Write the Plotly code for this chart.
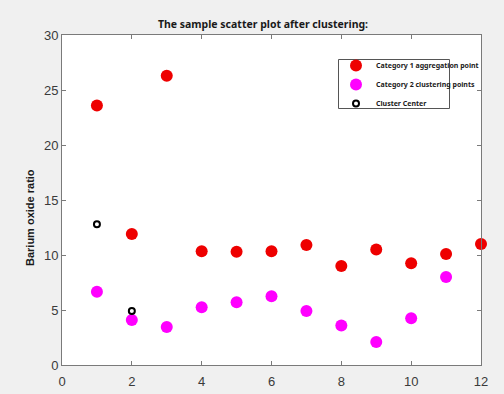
import plotly.graph_objects as go

cat1_x = [1, 2, 3, 4, 5, 6, 7, 8, 9, 10, 11, 12]
cat1_y = [23.6, 11.9, 26.3, 10.35, 10.3, 10.35, 10.9, 9.0, 10.5, 9.25, 10.1, 11.0]
cat2_x = [1, 2, 3, 4, 5, 6, 7, 8, 9, 10, 11]
cat2_y = [6.65, 4.1, 3.45, 5.25, 5.7, 6.25, 4.9, 3.6, 2.1, 4.25, 8.0]
center_x = [1, 2]
center_y = [12.8, 4.9]
x_ticks = [0, 2, 4, 6, 8, 10, 12]
y_ticks = [0, 5, 10, 15, 20, 25, 30]

W, H = 504, 394
L, R, T, B = 62, 23, 35, 29
pw, ph = W - L - R, H - T - B

fig = go.Figure()
fig.add_trace(go.Scatter(x=cat1_x, y=cat1_y, mode="markers", name="Category 1 aggregation point",
                         marker=dict(color="#ee0000", size=12, line=dict(width=0)), cliponaxis=False))
fig.add_trace(go.Scatter(x=cat2_x, y=cat2_y, mode="markers", name="Category 2 clustering points",
                         marker=dict(color="#ff00ff", size=12, line=dict(width=0)), cliponaxis=False))
fig.add_trace(go.Scatter(x=center_x, y=center_y, mode="markers", name="Cluster Center",
                         marker=dict(symbol="circle-open", color="black", size=6, line=dict(width=2)),
                         cliponaxis=False))

axis_common = dict(showgrid=False, zeroline=False, showline=True, linecolor="#7a7a7a", linewidth=1,
                   mirror="ticks", ticks="inside", ticklen=4, tickcolor="#7a7a7a", automargin=False,
                   tickfont=dict(family="Liberation Sans, Arial", size=13, color="#3a3a3a"))

def px_x(p):
    return (p - L) / pw

def px_y(p):
    return (H - B - p) / ph

fig.update_layout(
    width=W, height=H,
    margin=dict(l=L, r=R, t=T, b=B),
    paper_bgcolor="#f0f0f0", plot_bgcolor="white",
    title=dict(text="<b>The sample scatter plot after clustering:</b>", x=263 / W, xanchor="center",
               y=1 - 24 / H, yanchor="middle", yref="container",
               font=dict(family="Noto Sans", size=10.5, color="#1a1a1a")),
    xaxis=dict(range=[0, 12], tickvals=x_ticks, **axis_common),
    yaxis=dict(range=[0, 30], tickvals=y_ticks, **axis_common),
    legend=dict(x=px_x(336), y=px_y(51), xanchor="left", yanchor="top", bgcolor="rgba(0,0,0,0)",
                borderwidth=0, tracegroupgap=0, itemwidth=30,
                font=dict(family="Noto Sans", size=7, color="#1a1a1a", weight="bold")),
    showlegend=True,
    shapes=[dict(type="rect", xref="paper", yref="paper", x0=px_x(338.5), x1=px_x(449.5),
                 y0=px_y(108.5), y1=px_y(59.5), fillcolor="white",
                 line=dict(color="#555555", width=1), layer="above")],
    annotations=[dict(text="<b>Barium oxide ratio</b>", textangle=-90, xref="paper", yref="paper",
                      x=px_x(30), y=px_y(218), xanchor="center", yanchor="middle", showarrow=False,
                      font=dict(family="Liberation Sans, Arial", size=11, color="#1a1a1a"))],
)
fig.update_xaxes(ticklabelstandoff=4)
fig.write_html("out.html")
